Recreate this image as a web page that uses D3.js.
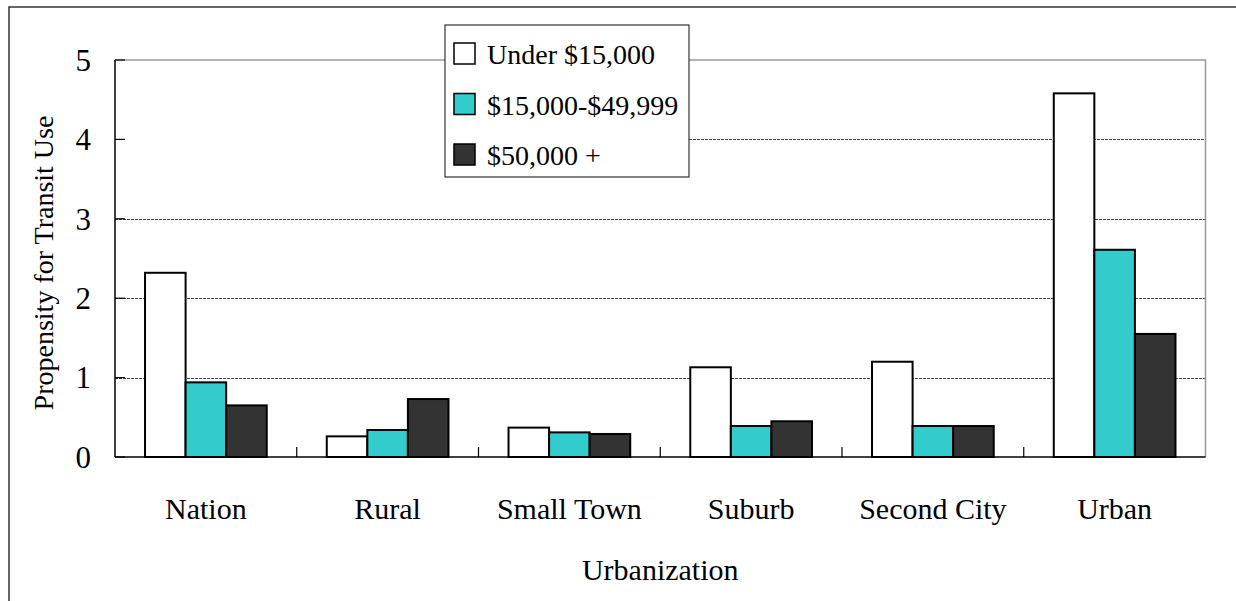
<!DOCTYPE html>
<html>
<head>
<meta charset="utf-8">
<script src="https://cdn.jsdelivr.net/npm/d3@7"></script>
<style>
  body { margin: 0; background: #fff; }
  text { font-family: "Liberation Serif", "Times New Roman", serif; fill: #000; }
</style>
</head>
<body>
<div id="chart"></div>
<script>
var categories = ["Nation", "Rural", "Small Town", "Suburb", "Second City", "Urban"];
var seriesNames = ["Under $15,000", "$15,000-$49,999", "$50,000 +"];
var under15 = [2.32, 0.26, 0.37, 1.13, 1.20, 4.58];
var mid15to50 = [0.94, 0.34, 0.31, 0.39, 0.39, 2.61];
var over50 = [0.65, 0.73, 0.29, 0.45, 0.39, 1.55];
var yTicks = [0, 1, 2, 3, 4, 5];
var colors = ["#ffffff", "#33cccc", "#333333"];

var width = 1236, height = 601;
var plotLeft = 115, plotRight = 1205.5, plotTop = 60, plotBottom = 457;

var svg = d3.select("#chart").append("svg")
    .attr("width", width)
    .attr("height", height);

// outer frame
svg.append("rect")
    .attr("x", 9).attr("y", 7)
    .attr("width", 1240).attr("height", 620)
    .attr("fill", "none")
    .attr("stroke", "#333")
    .attr("stroke-width", 1.5);

var x0 = d3.scaleBand().domain(categories).range([plotLeft, plotRight]).padding(0);
var x1 = d3.scaleBand().domain(seriesNames).range([0, x0.bandwidth()]).paddingInner(0).paddingOuter(0.74);
var y = d3.scaleLinear().domain([0, 5]).range([plotBottom, plotTop]);

var legendBox = { x: 445, y: 25, w: 244, h: 152 };

// gridlines
svg.append("g").selectAll("line")
    .data(yTicks.filter(function (d) { return d > 0 && d < 5; }))
    .enter().append("line")
    .attr("x1", function (d) {
        var yy = y(d);
        return (yy > legendBox.y && yy < legendBox.y + legendBox.h) ? legendBox.x + legendBox.w : plotLeft;
    })
    .attr("x2", plotRight)
    .attr("y1", function (d) { return Math.round(y(d)) + 0.5; })
    .attr("y2", function (d) { return Math.round(y(d)) + 0.5; })
    .attr("stroke", "#444")
    .attr("stroke-width", 1)
    .attr("stroke-dasharray", "3,1");

// top and right plot borders
svg.append("path")
    .attr("d", "M" + plotLeft + "," + y(5) + "H" + plotRight + "V" + plotBottom)
    .attr("fill", "none")
    .attr("stroke", "#999")
    .attr("stroke-width", 1.5);

var rows = categories.map(function (c, i) {
    return { cat: c, values: [under15[i], mid15to50[i], over50[i]] };
});

var groups = svg.append("g").selectAll("g")
    .data(rows)
    .enter().append("g")
    .attr("transform", function (d) { return "translate(" + x0(d.cat) + ",0)"; });

groups.selectAll("rect")
    .data(function (d) {
        return d.values.map(function (v, j) { return { key: seriesNames[j], value: v, idx: j }; });
    })
    .enter().append("rect")
    .attr("x", function (d) { return x1(d.key); })
    .attr("y", function (d) { return y(d.value); })
    .attr("width", x1.bandwidth())
    .attr("height", function (d) { return plotBottom - y(d.value); })
    .attr("fill", function (d) { return colors[d.idx]; })
    .attr("stroke", "#000")
    .attr("stroke-width", 2);

// y axis
svg.append("line")
    .attr("x1", plotLeft).attr("x2", plotLeft)
    .attr("y1", plotTop).attr("y2", plotBottom)
    .attr("stroke", "#000").attr("stroke-width", 1.5);

svg.append("g").selectAll("line")
    .data(yTicks)
    .enter().append("line")
    .attr("x1", plotLeft).attr("x2", plotLeft + 10)
    .attr("y1", function (d) { return y(d); })
    .attr("y2", function (d) { return y(d); })
    .attr("stroke", "#000").attr("stroke-width", 1.2);

svg.append("g").selectAll("text")
    .data(yTicks)
    .enter().append("text")
    .attr("x", 91)
    .attr("y", function (d) { return y(d); })
    .attr("dy", "0.35em")
    .attr("text-anchor", "end")
    .style("font-size", "31px")
    .text(function (d) { return d; });

// x axis
svg.append("line")
    .attr("x1", plotLeft).attr("x2", plotRight)
    .attr("y1", plotBottom).attr("y2", plotBottom)
    .attr("stroke", "#000").attr("stroke-width", 1.5);

svg.append("g").selectAll("line")
    .data(categories.slice(1))
    .enter().append("line")
    .attr("x1", function (d) { return x0(d); })
    .attr("x2", function (d) { return x0(d); })
    .attr("y1", plotBottom).attr("y2", plotBottom - 10)
    .attr("stroke", "#000").attr("stroke-width", 1.2);

svg.append("g").selectAll("text")
    .data(categories)
    .enter().append("text")
    .attr("x", function (d) { return x0(d) + x0.bandwidth() / 2; })
    .attr("y", 519)
    .attr("text-anchor", "middle")
    .style("font-size", "30px")
    .text(function (d) { return d; });

svg.append("text")
    .attr("x", (plotLeft + plotRight) / 2)
    .attr("y", 580)
    .attr("text-anchor", "middle")
    .style("font-size", "30px")
    .text("Urbanization");

svg.append("text")
    .attr("transform", "translate(53,263) rotate(-90)")
    .attr("text-anchor", "middle")
    .style("font-size", "28px")
    .text("Propensity for Transit Use");

// legend
var legend = svg.append("g");
legend.append("rect")
    .attr("x", legendBox.x).attr("y", legendBox.y)
    .attr("width", legendBox.w).attr("height", legendBox.h)
    .attr("fill", "#fff")
    .attr("stroke", "#333")
    .attr("stroke-width", 1.2);

var items = legend.selectAll("g.item")
    .data(seriesNames)
    .enter().append("g")
    .attr("class", "item")
    .attr("transform", function (d, i) { return "translate(454," + (43 + i * 50.5) + ")"; });

items.append("rect")
    .attr("width", 21).attr("height", 21)
    .attr("fill", function (d, i) { return colors[i]; })
    .attr("stroke", "#000")
    .attr("stroke-width", 1.5);

items.append("text")
    .attr("x", 33)
    .attr("y", 21)
    .style("font-size", "28px")
    .text(function (d) { return d; });
</script>
</body>
</html>
